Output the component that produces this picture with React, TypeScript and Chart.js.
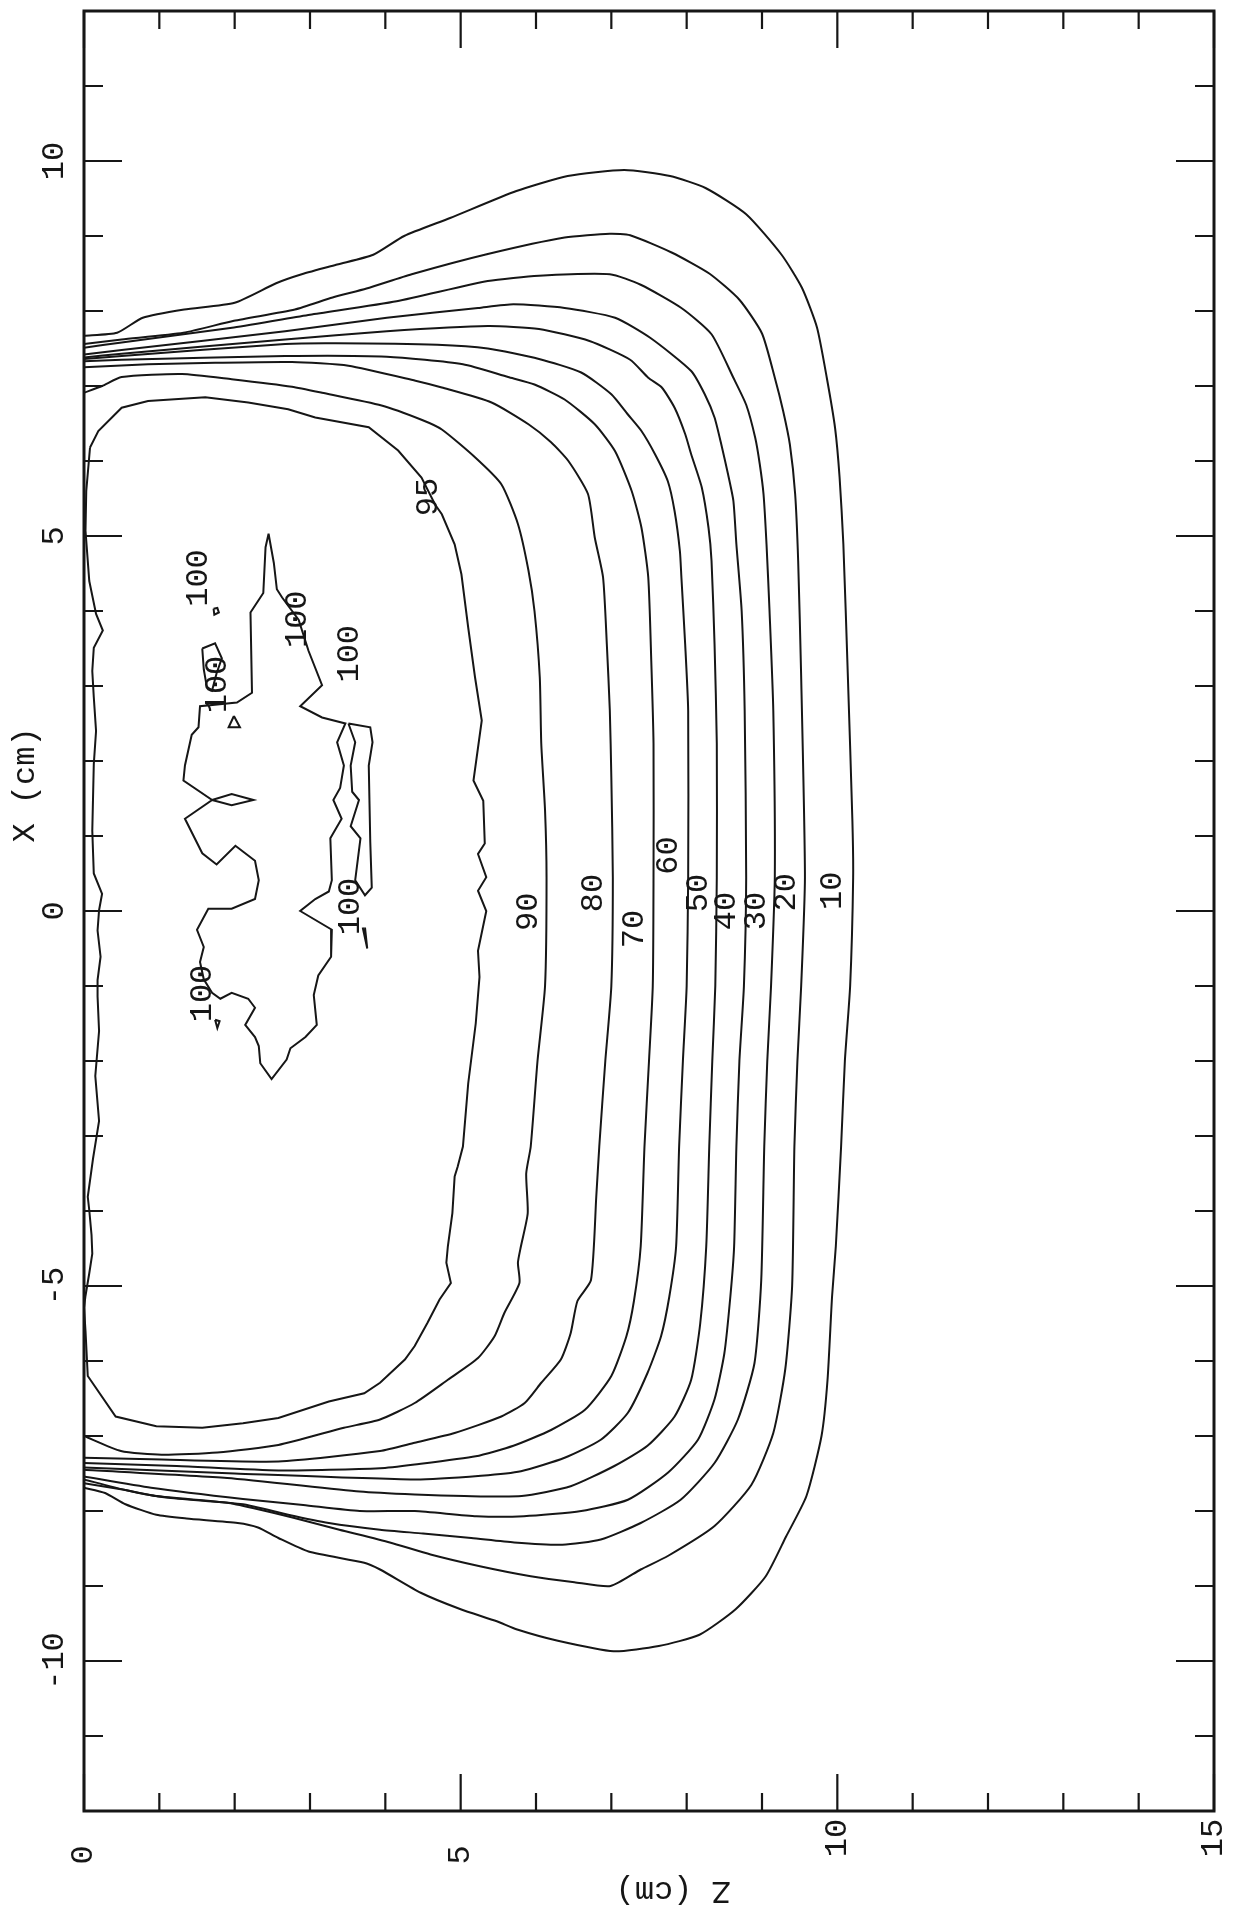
import React, { useEffect, useRef } from "react";
import { Chart, registerables } from "chart.js";

Chart.register(...registerables);

type P = [number, number]; // [Z (cm), X (cm)]

// ---- isodose contours (Z depth, X off-axis) ----
const level10: P[] = [
  [0, 7.67], [0.44, 7.71], [0.78, 7.91], [1.33, 8.02], [2.0, 8.11], [2.55, 8.37], [2.89, 8.49], [3.36, 8.62],
  [3.84, 8.75], [4.25, 9.0], [4.86, 9.24], [5.74, 9.6], [6.42, 9.8], [7.17, 9.88], [7.78, 9.8], [8.25, 9.64],
  [8.79, 9.29], [9.26, 8.75], [9.53, 8.31], [9.73, 7.78], [9.86, 7.11], [9.97, 6.44], [10.03, 5.78], [10.08, 4.89],
  [10.14, 3.12], [10.2, 1.2], [10.21, 0.45], [10.17, -1], [10.1, -2], [10.05, -3.14], [9.98, -4.47], [9.93, -5.14],
  [9.87, -6.25], [9.79, -7.0], [9.59, -7.8], [9.32, -8.34], [9.05, -8.87], [8.65, -9.31], [8.17, -9.65], [7.63, -9.8],
  [7.03, -9.87], [6.29, -9.73], [5.75, -9.58], [5.48, -9.47], [5.0, -9.31], [4.47, -9.09], [3.93, -8.78], [3.72, -8.69],
  [2.98, -8.54], [2.58, -8.36], [2.31, -8.22], [2.04, -8.16], [1.36, -8.1], [0.96, -8.05], [0.55, -7.91], [0.28, -7.76],
  [0, -7.69],
];
const level20: P[] = [
  [0, 7.56], [0.5, 7.62], [1.32, 7.71], [1.99, 7.87], [2.8, 8.02], [3.3, 8.18], [3.75, 8.3], [4.35, 8.49],
  [5.36, 8.76], [6.38, 8.98], [6.98, 9.03], [7.25, 9.01], [7.8, 8.78], [8.3, 8.5], [8.7, 8.15], [9.0, 7.7],
  [9.17, 7.11], [9.28, 6.67], [9.37, 6.22], [9.44, 5.56], [9.48, 4.67], [9.52, 3.12], [9.57, 0.45], [9.52, -1],
  [9.47, -2], [9.43, -3.14], [9.4, -5.0], [9.31, -6.1], [9.15, -6.96], [8.86, -7.65], [8.37, -8.2], [7.75, -8.6],
  [7.39, -8.78], [6.99, -9.0], [6.51, -8.95], [5.93, -8.87], [5.27, -8.74], [4.6, -8.58], [4.06, -8.42], [3.39, -8.25],
  [2.78, -8.09], [2.24, -7.96], [1.9, -7.89], [0.96, -7.8], [0.49, -7.71], [0, -7.63],
];
const level30: P[] = [
  [0, 7.51], [0.5, 7.58], [1.99, 7.78], [3.0, 7.95], [4.15, 8.13], [5.36, 8.4], [6.04, 8.47], [6.98, 8.49],
  [7.39, 8.35], [7.93, 8.04], [8.33, 7.69], [8.62, 7.11], [8.79, 6.75], [8.91, 6.31], [8.97, 5.96], [9.02, 5.56],
  [9.06, 4.89], [9.1, 4.0], [9.15, 2.67], [9.17, 0.45], [9.12, -1], [9.07, -2], [9.03, -3.14], [8.99, -4.92],
  [8.9, -6.03], [8.68, -6.78], [8.37, -7.36], [7.92, -7.85], [7.39, -8.16], [6.86, -8.38], [6.35, -8.45], [5.71, -8.42],
  [5.14, -8.36], [4.5, -8.3], [3.93, -8.25], [3.25, -8.16], [2.71, -8.05], [2.11, -7.91], [1.09, -7.82], [0.55, -7.72],
  [0, -7.58],
];
const level40: P[] = [
  [0, 7.42], [0.5, 7.48], [2.67, 7.73], [4.02, 7.91], [5.23, 8.04], [5.7, 8.09], [6.38, 8.04], [7.05, 7.91],
  [7.52, 7.64], [8.06, 7.2], [8.24, 6.89], [8.37, 6.58], [8.46, 6.22], [8.55, 5.82], [8.62, 5.47], [8.66, 4.89],
  [8.73, 4.0], [8.77, 2.67], [8.79, 0.45], [8.76, -1], [8.7, -2], [8.66, -3.14], [8.63, -4.47], [8.58, -5.14],
  [8.5, -5.9], [8.37, -6.51], [8.15, -7.05], [7.75, -7.49], [7.22, -7.85], [6.6, -8.0], [5.84, -8.07], [5.21, -8.07],
  [4.39, -8.0], [3.66, -8.0], [2.91, -7.92], [2.11, -7.84], [0.89, -7.69], [0, -7.54],
];
const level50: P[] = [
  [0, 7.38], [0.5, 7.43], [2.67, 7.62], [4.02, 7.73], [5.36, 7.8], [6.04, 7.76], [6.71, 7.6], [7.25, 7.35],
  [7.49, 7.11], [7.67, 6.98], [7.84, 6.71], [7.98, 6.36], [8.06, 6.09], [8.2, 5.65], [8.29, 5.11], [8.33, 4.67],
  [8.37, 3.56], [8.4, 2.23], [8.4, 0.45], [8.38, -1], [8.34, -2], [8.3, -3.14], [8.26, -4.47], [8.18, -5.5],
  [8.06, -6.25], [7.84, -6.74], [7.48, -7.13], [7.04, -7.4], [6.46, -7.67], [5.81, -7.8], [5.05, -7.8], [4.39, -7.78],
  [3.66, -7.74], [1.9, -7.56], [0, -7.45],
];
const level60: P[] = [
  [0, 7.36], [0.5, 7.4], [2.67, 7.56], [3.34, 7.57], [4.69, 7.55], [5.36, 7.5], [6.04, 7.36], [6.6, 7.18],
  [7.0, 6.89], [7.22, 6.62], [7.4, 6.4], [7.58, 6.09], [7.75, 5.73], [7.84, 5.33], [7.91, 4.8], [7.93, 4.45],
  [7.98, 3.56], [8.02, 2.67], [8.02, 0.45], [8.0, -1], [7.95, -2], [7.9, -3.14], [7.86, -4.47], [7.77, -5.14],
  [7.66, -5.67], [7.48, -6.16], [7.22, -6.69], [6.86, -7.05], [6.38, -7.29], [5.8, -7.47], [5.27, -7.53], [4.39, -7.58],
  [2.0, -7.5], [0, -7.42],
];
const level70: P[] = [
  [0, 7.33], [0.5, 7.35], [2.67, 7.4], [4.02, 7.39], [5.03, 7.29], [5.63, 7.12], [5.98, 7.02], [6.38, 6.82],
  [6.78, 6.49], [7.05, 6.13], [7.27, 5.6], [7.4, 5.11], [7.49, 4.45], [7.53, 3.34], [7.56, 2.23], [7.56, 0.45],
  [7.55, -1], [7.5, -2], [7.44, -3.14], [7.39, -4.47], [7.3, -5.2], [7.2, -5.67], [7.0, -6.2], [6.65, -6.65],
  [6.2, -6.92], [5.7, -7.13], [5.2, -7.27], [4.39, -7.38], [3.93, -7.43], [2.58, -7.46], [1.23, -7.4], [0, -7.36],
];
const level80: P[] = [
  [0, 7.25], [0.85, 7.29], [1.74, 7.31], [2.76, 7.32], [3.51, 7.27], [4.4, 7.07], [4.75, 6.98], [5.41, 6.78],
  [5.9, 6.49], [6.2, 6.25], [6.43, 6.0], [6.69, 5.56], [6.78, 4.98], [6.89, 4.45], [6.94, 3.56], [6.98, 2.67],
  [7.0, 1.78], [7.02, 0.45], [7.0, -1], [6.92, -2], [6.84, -3.14], [6.8, -3.81], [6.73, -4.92], [6.55, -5.2],
  [6.46, -5.63], [6.33, -5.98], [6.07, -6.29], [5.85, -6.56], [5.54, -6.74], [4.92, -6.96], [4.39, -7.09], [3.93, -7.2],
  [2.58, -7.34], [0.89, -7.31], [0, -7.29],
];
const level90: P[] = [
  [0, 6.91], [0.24, 7.0], [0.5, 7.12], [1.3, 7.16], [1.96, 7.09], [2.76, 6.99], [3.16, 6.91], [3.95, 6.74],
  [4.48, 6.55], [4.75, 6.42], [5.19, 6.05], [5.54, 5.69], [5.76, 5.16], [5.9, 4.54], [5.98, 4.0], [6.05, 3.12],
  [6.07, 2.23], [6.12, 1.34], [6.14, 0.45], [6.12, -1], [6.02, -2], [5.93, -3.14], [5.87, -3.5], [5.89, -4.03],
  [5.8, -4.47], [5.76, -4.69], [5.78, -4.96], [5.58, -5.36], [5.45, -5.67], [5.23, -5.96], [4.83, -6.25], [4.39, -6.56],
  [3.93, -6.78], [3.45, -6.89], [2.58, -7.12], [1.77, -7.22], [1.03, -7.25], [0.49, -7.2], [0, -7.0],
];
const level95: P[] = [
  [0.08, 6.18], [0.19, 6.4], [0.5, 6.71], [0.85, 6.8], [1.61, 6.85], [2.18, 6.78], [2.71, 6.69], [3.07, 6.58],
  [3.78, 6.45], [4.17, 6.14], [4.48, 5.78], [4.66, 5.42], [4.75, 5.29], [4.92, 4.89], [5.01, 4.49], [5.1, 3.78],
  [5.19, 3.12], [5.28, 2.54], [5.17, 1.74], [5.3, 1.47], [5.32, 0.9], [5.23, 0.76], [5.34, 0.45], [5.23, 0.27],
  [5.34, 0.0], [5.23, -0.53], [5.25, -0.88], [5.2, -1.5], [5.1, -2.3], [5.03, -3.14], [4.96, -3.41], [4.92, -3.54],
  [4.89, -4.03], [4.83, -4.47], [4.81, -4.69], [4.87, -4.96], [4.72, -5.18], [4.56, -5.49], [4.39, -5.8], [4.26, -5.98],
  [3.93, -6.29], [3.72, -6.43], [3.25, -6.54], [2.58, -6.76], [2.11, -6.83], [1.57, -6.89], [0.96, -6.87], [0.42, -6.74],
  [0.05, -6.2], [0.02, -5.6], [0, -5.29], [0.02, -5.13], [0.07, -4.83], [0.11, -4.57], [0.1, -4.32], [0.07, -3.99],
  [0.05, -3.81], [0.12, -3.3], [0.2, -2.8], [0.15, -2.2], [0.2, -1.6], [0.18, -1.14], [0.18, -0.92], [0.22, -0.61],
  [0.18, -0.26], [0.2, 0.01], [0.24, 0.23], [0.13, 0.5], [0.11, 1.07], [0.13, 1.96], [0.16, 2.4], [0.13, 2.85],
  [0.11, 3.2], [0.13, 3.51], [0.25, 3.74], [0.16, 3.96], [0.07, 4.4], [0.02, 5.07], [0.03, 5.6], [0.08, 6.18],
];
const level100Main: P[] = [
  [2.45, 5.03], [2.52, 4.64], [2.56, 4.29], [2.63, 4.18], [2.85, 3.88], [2.98, 3.47], [3.16, 3.01], [2.87, 2.73],
  [3.16, 2.58], [3.47, 2.5], [3.36, 2.25], [3.45, 1.94], [3.4, 1.64], [3.31, 1.48], [3.42, 1.23], [3.27, 0.97],
  [3.29, 0.41], [3.25, 0.26], [3.07, 0.16], [2.87, 0.0], [3.29, -0.25], [3.28, -0.61], [3.11, -0.86], [3.05, -1.12],
  [3.09, -1.52], [2.94, -1.68], [2.74, -1.83], [2.69, -1.98], [2.49, -2.24], [2.34, -2.03], [2.32, -1.8], [2.27, -1.68],
  [2.14, -1.52], [2.27, -1.29], [2.18, -1.17], [1.96, -1.09], [1.81, -1.17], [1.7, -1.09], [1.59, -0.91], [1.54, -0.68],
  [1.59, -0.48], [1.5, -0.25], [1.65, 0.03], [1.96, 0.03], [2.27, 0.16], [2.32, 0.41], [2.27, 0.67], [2.01, 0.87],
  [1.76, 0.62], [1.57, 0.77], [1.34, 1.23], [1.7, 1.48], [1.32, 1.74], [1.34, 1.94], [1.43, 2.35], [1.52, 2.45],
  [1.54, 2.73], [2.03, 2.78], [2.23, 2.91], [2.21, 3.98], [2.38, 4.24], [2.41, 4.85], [2.45, 5.03],
];
const level100Strip: P[] = [
  [3.51, 2.5], [3.8, 2.45], [3.83, 2.25], [3.78, 1.94], [3.79, 1.43], [3.8, 0.92], [3.82, 0.31], [3.73, 0.21],
  [3.6, 0.41], [3.67, 0.97], [3.54, 1.13], [3.65, 1.48], [3.56, 1.59], [3.54, 1.94], [3.6, 2.25], [3.51, 2.5],
];
const level100Lens: P[] = [[1.7, 1.48], [1.96, 1.56], [2.25, 1.48], [1.96, 1.41], [1.7, 1.48]];
const level100Pocket: P[] = [
  [1.57, 3.5], [1.74, 3.57], [1.83, 3.37], [1.76, 3.17], [1.7, 2.94], [1.63, 2.99], [1.59, 3.22], [1.57, 3.5],
];
const level100Dot: P[] = [[1.72, 4.03], [1.77, 4.04], [1.79, 3.98], [1.73, 3.95], [1.72, 4.03]];
const level100Tri: P[] = [[1.99, 2.6], [2.07, 2.45], [1.92, 2.45], [1.99, 2.6]];
const level100Tri2: P[] = [[1.74, -1.45], [1.8, -1.47], [1.77, -1.56], [1.74, -1.45]];
const level100Dash: P[] = [[3.7, -0.22], [3.76, -0.5], [3.73, -0.22]];

// smooth outer isodose lines, jagged inner ones
const smoothContours: P[][] = [level10, level20, level30, level40, level50, level60, level70, level80, level90];
const jaggedContours: P[][] = [
  level95, level100Main, level100Strip, level100Lens, level100Pocket, level100Dot, level100Tri, level100Tri2, level100Dash,
];

// ---- contour labels ----
const labelText = ["95", "90", "80", "70", "60", "50", "40", "30", "20", "10", "100", "100", "100", "100", "100", "100"];
const labelZ = [4.57, 5.9, 6.77, 7.31, 7.76, 8.16, 8.53, 8.93, 9.33, 9.93, 1.52, 2.83, 3.52, 1.77, 3.54, 1.57];
const labelX = [5.52, -0.01, 0.24, -0.24, 0.74, 0.24, 0.0, 0.0, 0.25, 0.27, 4.44, 3.89, 3.43, 3.02, 0.06, -1.1];

// ---- axes ----
const zTickValues = [0, 1, 2, 3, 4, 5, 6, 7, 8, 9, 10, 11, 12, 13, 14, 15];
const xTickValues = [-12, -11, -10, -9, -8, -7, -6, -5, -4, -3, -2, -1, 0, 1, 2, 3, 4, 5, 6, 7, 8, 9, 10, 11, 12];
const zTickLabels = ["0", "5", "10", "15"];
const zTickLabelValues = [0, 5, 10, 15];
const xTickLabels = ["10", "5", "0", "-5", "-10"];
const xTickLabelValues = [10, 5, 0, -5, -10];
const zTitle = "Z (cm)";
const xTitle = "X (cm)";

const INK = "#161616";
const FONT = '32px "Liberation Mono", "DejaVu Sans Mono", monospace';

function rotText(ctx: CanvasRenderingContext2D, t: string, px: number, py: number, ang: number) {
  ctx.save();
  ctx.translate(px, py);
  ctx.rotate(ang);
  ctx.fillText(t, 0, 0);
  ctx.restore();
}

const framePlugin = {
  id: "plotFrame",
  afterDatasetsDraw(chart: any) {
    const { ctx, chartArea: a, scales } = chart;
    const xs = scales.x;
    const ys = scales.y;
    ctx.save();
    ctx.strokeStyle = INK;
    ctx.fillStyle = INK;
    ctx.lineCap = "butt";
    ctx.lineWidth = 3;
    ctx.strokeRect(a.left, a.top, a.right - a.left, a.bottom - a.top);
    ctx.lineWidth = 2.2;
    ctx.beginPath();
    for (const v of zTickValues) {
      const px = xs.getPixelForValue(v);
      const len = v % 5 === 0 ? 37 : 18;
      ctx.moveTo(px, a.bottom);
      ctx.lineTo(px, a.bottom - len);
      ctx.moveTo(px, a.top);
      ctx.lineTo(px, a.top + len);
    }
    for (const v of xTickValues) {
      const py = ys.getPixelForValue(v);
      const len = v % 5 === 0 ? 38 : 19;
      ctx.moveTo(a.left, py);
      ctx.lineTo(a.left + len, py);
      ctx.moveTo(a.right, py);
      ctx.lineTo(a.right - len, py);
    }
    ctx.stroke();

    ctx.font = FONT;
    ctx.textAlign = "center";
    ctx.textBaseline = "middle";
    const up = -Math.PI / 2;
    xTickLabels.forEach((t, i) => {
      rotText(ctx, t, a.left - 29, ys.getPixelForValue(xTickLabelValues[i]), up);
    });
    zTickLabels.forEach((t, i) => {
      const off = t.length === 1 ? 44 : 27;
      rotText(ctx, t, xs.getPixelForValue(zTickLabelValues[i]), a.bottom + off, up);
    });
    rotText(ctx, xTitle, a.left - 58, ys.getPixelForValue(1.68), up);
    rotText(ctx, zTitle, xs.getPixelForValue(7.82), a.bottom + 79, Math.PI);
    labelText.forEach((t, i) => {
      rotText(ctx, t, xs.getPixelForValue(labelZ[i]), ys.getPixelForValue(labelX[i]), up);
    });
    ctx.restore();
  },
};

function toDataset(pts: P[], tension: number) {
  return {
    data: pts.map(([z, x]) => ({ x: z, y: x })),
    showLine: true,
    pointRadius: 0,
    pointHoverRadius: 0,
    borderColor: INK,
    borderWidth: 2,
    tension,
    fill: false,
  };
}

export default function App() {
  const ref = useRef<HTMLCanvasElement | null>(null);
  useEffect(() => {
    document.body.style.margin = "0";
    document.body.style.background = "#ffffff";
    const canvas = ref.current;
    if (!canvas) return;
    const chart = new Chart(canvas, {
      type: "scatter",
      data: {
        datasets: [
          ...smoothContours.map((pts) => toDataset(pts, 0.2)),
          ...jaggedContours.map((pts) => toDataset(pts, 0)),
        ],
      },
      options: {
        animation: false,
        responsive: false,
        maintainAspectRatio: false,
        events: [],
        layout: { padding: { left: 84, right: 21, top: 11, bottom: 99 } },
        plugins: { legend: { display: false }, tooltip: { enabled: false } },
        scales: {
          x: { type: "linear", min: 0, max: 15, display: false },
          y: { type: "linear", min: -12, max: 12, display: false },
        },
      },
      plugins: [framePlugin],
    });
    return () => chart.destroy();
  }, []);
  return (
    <div style={{ width: 1235, height: 1910, background: "#fff" }}>
      <canvas ref={ref} width={1235} height={1910} style={{ display: "block" }} />
    </div>
  );
}
